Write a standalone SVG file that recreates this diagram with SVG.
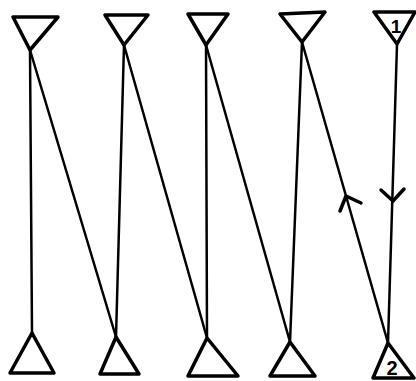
<svg xmlns="http://www.w3.org/2000/svg" width="416" height="381" viewBox="0 0 416 381">
<style>
.tri{fill:none;stroke:#000;stroke-width:3.5;stroke-linejoin:round}
.ln{fill:none;stroke:#000;stroke-width:2.5;stroke-linecap:round}
.ah{fill:none;stroke:#000;stroke-width:3.5;stroke-linecap:round;stroke-linejoin:round}
.lbl{font-family:"Liberation Sans",Arial,sans-serif;font-weight:bold;fill:#000;text-anchor:middle}
</style>
<rect width="416" height="381" fill="#fff"/>
<g id="connectors">
<line class="ln" x1="30" y1="50" x2="32" y2="333"/>
<line class="ln" x1="30" y1="50" x2="116" y2="337"/>
<line class="ln" x1="124" y1="45" x2="116" y2="337"/>
<line class="ln" x1="124" y1="45" x2="207" y2="338"/>
<line class="ln" x1="206" y1="45" x2="207" y2="338"/>
<line class="ln" x1="206" y1="45" x2="290" y2="342"/>
<line class="ln" x1="302" y1="42" x2="290" y2="342"/>
<line class="ln" x1="302" y1="42" x2="388" y2="343"/>
<line class="ln" x1="397" y1="44" x2="388" y2="343"/>
<polyline class="ah" points="340,211 346,196 361,203"/>
<polyline class="ah" points="381,190 393,201 404,189"/>
</g>
<g id="top1"><polygon class="tri" points="13,17 58,17 30,50"/></g>
<g id="top2"><polygon class="tri" points="105,15 148,15 124,45"/></g>
<g id="top3"><polygon class="tri" points="188,14 228,14 206,45"/></g>
<g id="top4"><polygon class="tri" points="280,14 325,12 302,42"/></g>
<g id="top5"><polygon class="tri" points="374,12 415,12 397,44"/><text class="lbl" x="396" y="33" font-size="19">1</text></g>
<g id="bot1"><polygon class="tri" points="32,333 54,373 10,373"/></g>
<g id="bot2"><polygon class="tri" points="116,337 139,374 100,374"/></g>
<g id="bot3"><polygon class="tri" points="207,338 238,376 188,376"/></g>
<g id="bot4"><polygon class="tri" points="290,342 315,376 270,376"/></g>
<g id="bot5"><polygon class="tri" points="388,343 414,378 373,378"/><text class="lbl" x="392" y="375" font-size="20">2</text></g>
</svg>
